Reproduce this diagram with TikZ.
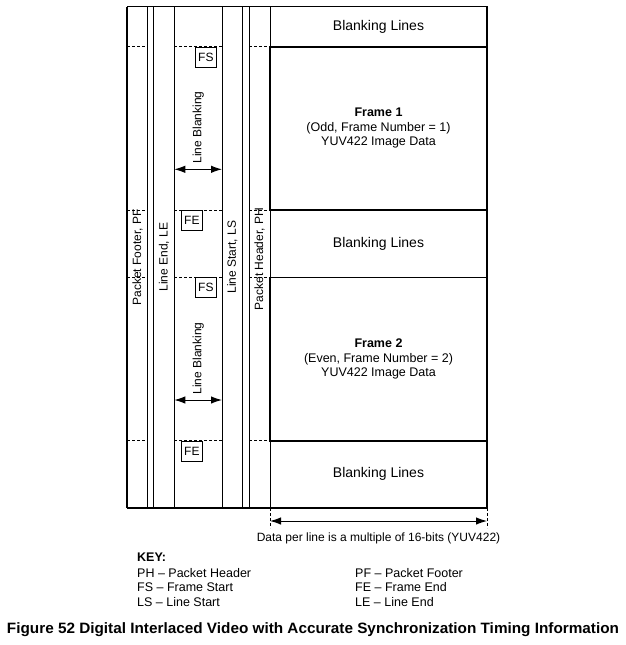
\documentclass[tikz,border=0pt]{standalone}
\usepackage{fontspec}
\setmainfont{Liberation Sans}
\usetikzlibrary{arrows.meta}
\begin{document}
\begin{tikzpicture}[x=1pt,y=-1pt,
    lbl/.style={font=\fontsize{12}{14.5}\selectfont,inner sep=0pt},
    vlbl/.style={lbl,rotate=90},
    tag/.style={draw,line width=0.8pt,lbl,minimum width=21pt,minimum height=20pt,anchor=north west},
    big/.style={font=\fontsize{14}{16}\selectfont},
    frm/.style={line width=1.6pt},
    sep/.style={densely dashed,line width=0.5pt},
    dim/.style={{Latex[length=11pt,width=7.5pt]}-{Latex[length=11pt,width=7.5pt]},line width=1pt}]
    \useasboundingbox (0,0) rectangle (625,645);
    % left hand columns
    \draw[line width=0.8pt] (127,6.5) rectangle (270,508);
    \foreach \x in {147.7,153.7,174.3,222,242.3,249}
        \draw[line width=0.8pt] (\x,6.5) -- (\x,508);
    \draw[line width=1.5pt] (127,6.5) -- (127,508);
    % dashed row marks
    \foreach \y in {46.7,210,277.3,440.7} {
        \draw[sep] (127,\y) -- (147.7,\y);
        \draw[sep] (174.3,\y) -- (222,\y);
        \draw[sep] (249,\y) -- (270,\y);
    }
    % right hand boxes
    \draw[line width=0.8pt] (270,6.5) rectangle (487,508);
    \draw[frm] (270,46.7) rectangle (487,210);
    \draw[frm] (270,277.3) rectangle (487,440.7);
    \draw[line width=1.4pt] (487,6.5) -- (487,508) -- (127,508);

    \node[big] (bl1) at (378.5,26.6) {Blanking Lines};
    \node[big] (bl2) at (378.5,243.6) {Blanking Lines};
    \node[big] (bl3) at (378.5,474.3) {Blanking Lines};
    \node[lbl,align=center,font=\fontsize{12.5}{14.5}\selectfont] (fr1) at (378.5,128.3) {\textbf{Frame 1}\\(Odd, Frame Number = 1)\\YUV422 Image Data};
    \node[lbl,align=center,font=\fontsize{12.5}{14.5}\selectfont] (fr2) at (378.5,359) {\textbf{Frame 2}\\(Even, Frame Number = 2)\\YUV422 Image Data};

    % column labels
    \node[vlbl] (pf) at (137.5,257.5) {Packet Footer, PF};
    \node[vlbl] (le) at (164,257) {Line End, LE};
    \node[vlbl] (ls) at (232.2,257) {Line Start, LS};
    \node[vlbl] (ph) at (259.5,259) {Packet Header, PH};

    % sync codes
    \node[tag] (fs1) at (195,46.7) {FS};
    \node[tag] (fe1) at (181,210) {FE};
    \node[tag] (fs2) at (195,277.3) {FS};
    \node[tag] (fe2) at (181,440.7) {FE};

    % line blanking
    \node[vlbl] (lb1) at (198.3,127.5) {Line Blanking};
    \coordinate (lb1l) at (174.3,169.3);
    \coordinate (lb1r) at (222,169.3);
    \draw[dim] (lb1l) -- (lb1r);
    \node[vlbl] (lb2) at (198.3,358.5) {Line Blanking};
    \coordinate (lb2l) at (174.3,400);
    \coordinate (lb2r) at (222,400);
    \draw[dim] (lb2l) -- (lb2r);

    % data width
    \coordinate (dl) at (270,521);
    \coordinate (dr) at (487,521);
    \draw[sep] (270,508) -- (270,528);
    \draw[sep] (487,508) -- (487,528);
    \draw[dim] (dl) -- (dr);
    \node[lbl] (dw) at (378.5,538) {Data per line is a multiple of 16-bits (YUV422)};

    % key
    \node[lbl,anchor=west,font=\fontsize{12.5}{14}\selectfont\bfseries] (key) at (137,557.5) {KEY:};
    \node[lbl,anchor=west,font=\fontsize{12.5}{14}\selectfont] (kph) at (137,573) {PH -- Packet Header};
    \node[lbl,anchor=west,font=\fontsize{12.5}{14}\selectfont] (kfs) at (137,587.5) {FS -- Frame Start};
    \node[lbl,anchor=west,font=\fontsize{12.5}{14}\selectfont] (kls) at (137,602) {LS -- Line Start};
    \node[lbl,anchor=west,font=\fontsize{12.5}{14}\selectfont] (kpf) at (355,573) {PF -- Packet Footer};
    \node[lbl,anchor=west,font=\fontsize{12.5}{14}\selectfont] (kfe) at (355,587.5) {FE -- Frame End};
    \node[lbl,anchor=west,font=\fontsize{12.5}{14}\selectfont] (kle) at (355,602) {LE -- Line End};

    \node (cap) at (313,629.5) {\resizebox{612pt}{\height}{\fontsize{15}{18}\selectfont\bfseries Figure 52 Digital Interlaced Video with Accurate Synchronization Timing Information}};
\end{tikzpicture}
\end{document}
